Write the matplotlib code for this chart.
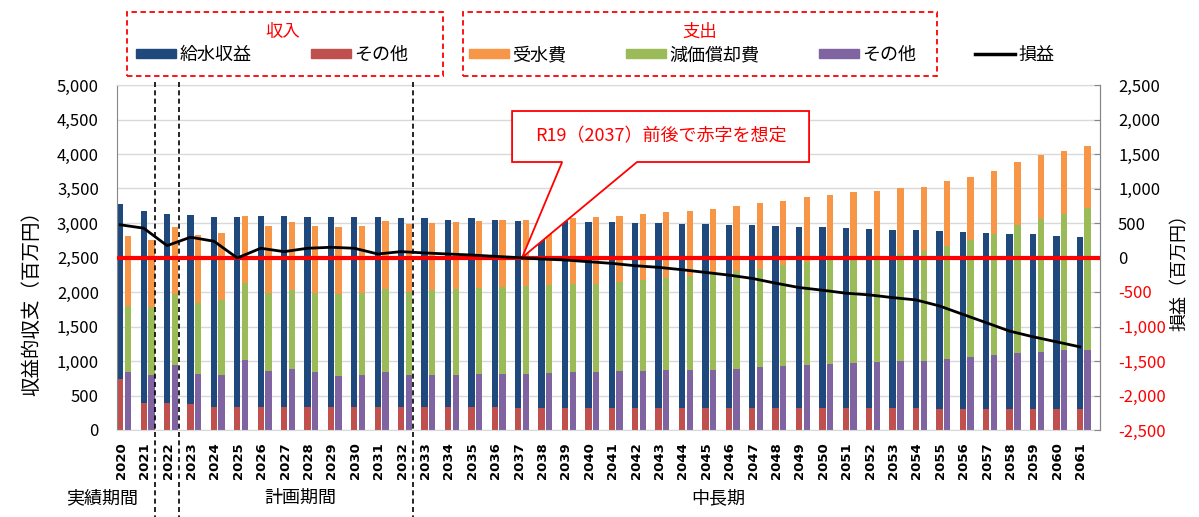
import matplotlib
matplotlib.use('Agg')
import matplotlib.pyplot as plt
import matplotlib.transforms as mtransforms
from matplotlib.patches import Patch, Polygon, Rectangle
from matplotlib.lines import Line2D
import numpy as np

plt.rcParams['font.family'] = ['Noto Sans CJK JP', 'DejaVu Sans']

# データ（百万円）
years = list(range(2020, 2062))
rev_water = [2530, 2790, 2740, 2745, 2745, 2745, 2760, 2760, 2745, 2745, 2745, 2745,
             2730, 2730, 2710, 2730, 2710, 2710, 2705, 2710, 2690, 2690,
             2670, 2670, 2660, 2660, 2650, 2650, 2640, 2625, 2625, 2615,
             2600, 2585, 2585, 2585, 2565, 2550, 2535, 2535, 2510, 2495]
rev_other = [745, 390, 390, 375, 340, 340, 340, 340, 340, 340, 340, 340,
             340, 340, 340, 340, 340, 325, 325, 325, 325, 325,
             325, 325, 325, 325, 315, 315, 315, 315, 315, 315,
             315, 315, 315, 300, 300, 300, 300, 300, 300, 300]
exp_purchase = [1010, 975, 965, 985, 970, 975, 965, 985, 965, 975, 970, 975,
                980, 975, 970, 970, 965, 960, 960, 960, 965, 960,
                960, 955, 940, 945, 935, 950, 930, 945, 935, 950,
                955, 950, 925, 935, 915, 910, 915, 925, 915, 900]
exp_depr = [955, 990, 1035, 1030, 1085, 1105, 1130, 1135, 1155, 1180, 1180, 1205,
            1205, 1225, 1240, 1240, 1260, 1275, 1270, 1275, 1285, 1290,
            1320, 1335, 1360, 1385, 1420, 1430, 1465, 1490, 1520, 1530,
            1530, 1555, 1605, 1640, 1700, 1760, 1855, 1935, 1980, 2055]
exp_other = [845, 790, 940, 815, 800, 1020, 860, 890, 835, 785, 800, 845,
             800, 800, 800, 815, 815, 815, 830, 835, 835, 850,
             850, 865, 875, 875, 890, 910, 925, 940, 955, 970,
             985, 995, 995, 1030, 1055, 1085, 1110, 1125, 1155, 1165]
profit = [474, 425, 172, 294, 236, -7, 134, 85, 134, 148, 134, 51,
          85, 66, 51, 36, 17, -2, -22, -36, -61, -85,
          -119, -143, -177, -216, -255, -303, -372, -435, -474, -517,
          -542, -581, -615, -702, -824, -945, -1067, -1149, -1222, -1295]

periods = ['実績期間', '計画期間', '中長期']
period_start = [2022, 2023, 2033]  # 区切り線の位置（この年の手前）

c_blue = '#1F497D'
c_red = '#C0504D'
c_orange = '#F79646'
c_green = '#9BBB59'
c_purple = '#8064A2'

fig = plt.figure(figsize=(11.99, 5.17), dpi=100)
ax = fig.add_axes([117/1199, 87/517, 983/1199, 345/517])

x = np.arange(len(years))
w = 0.27
xr = x - 0.36
xe = x - 0.03
ro = np.array(rev_other)
eo = np.array(exp_other)
ed = np.array(exp_depr)

ax.bar(xr, rev_other, w, color=c_red, zorder=2)
ax.bar(xr, rev_water, w, bottom=ro, color=c_blue, zorder=2)
ax.bar(xe, exp_other, w, color=c_purple, zorder=2)
ax.bar(xe, exp_depr, w, bottom=eo, color=c_green, zorder=2)
ax.bar(xe, exp_purchase, w, bottom=eo + ed, color=c_orange, zorder=2)

ax.set_xlim(-0.5, len(years) - 0.5)
ax.set_ylim(0, 5000)
ax.set_yticks(np.arange(0, 5001, 500))
ax.set_yticklabels(['{:,}'.format(v) for v in range(0, 5001, 500)], fontsize=12)
ax.tick_params(axis='y', length=0, pad=13)
ax.yaxis.grid(True, color='#d9d9d9', lw=1)
ax.set_axisbelow(True)
ax.set_xticks(x - 0.32)
ax.set_xticklabels([str(y) for y in years], rotation=90, fontsize=9.5,
                   fontweight='bold', family='DejaVu Sans')
ax.tick_params(axis='x', length=0, pad=9)
for s in ['top', 'bottom']:
    ax.spines[s].set_color('#d9d9d9')
ax.spines['left'].set_color('#868686')
ax.spines['right'].set_color('#868686')

ax2 = ax.twinx()
ax2.set_ylim(-2500, 2500)
rt = np.arange(-2500, 2501, 500)
ax2.set_yticks(rt)
ax2.set_yticklabels(['{:,}'.format(v) for v in rt], fontsize=12)
for lab, v in zip(ax2.get_yticklabels(), rt):
    if v < 0:
        lab.set_color('#ff0000')
ax2.tick_params(axis='y', direction='in', length=4, color='#868686', pad=13)
ax2.spines['right'].set_color('#868686')
ax2.spines['left'].set_visible(False)
ax2.spines['top'].set_visible(False)
ax2.spines['bottom'].set_visible(False)

# 吹き出し
i37 = years.index(2037)
tip = i37 - 0.19
callout = Polygon([(16.38, 2123), (29.07, 2123), (29.07, 1384), (21.72, 1384),
                   (tip, 0), (18.52, 1384), (16.38, 1384)], closed=True,
                  facecolor='white', edgecolor='#ff0000', lw=1.3, zorder=3)
ax2.add_patch(callout)
ax2.text((16.38 + 29.07) / 2, 1754, 'R19（2037）前後で赤字を想定', color='#ff0000',
         fontsize=13, ha='center', va='center', zorder=4)

ax2.axhline(0, color='#ff0000', lw=3, zorder=5)
ax2.plot(xr, profit, color='black', lw=2, zorder=6)

# 期間の区切り
trans = mtransforms.blended_transform_factory(ax.transData, ax.transAxes)
for y in period_start:
    xb = years.index(y) - 0.87
    ax.plot([xb, xb], [1.01, -0.26], transform=trans, clip_on=False,
            color='black', lw=1.2, ls=(0, (3, 2)), zorder=10)

fig.text(102/1199, 1 - 498/517, periods[0], ha='center', va='center', fontsize=13)
fig.text(300/1199, 1 - 498/517, periods[1], ha='center', va='center', fontsize=13)
fig.text(718/1199, 1 - 498/517, periods[2], ha='center', va='center', fontsize=13)

fig.text(32/1199, 1 - 298/517, '収益的収支（百万円）', rotation=90, ha='center',
         va='center', fontsize=14)
fig.text(1180/1199, 1 - 268/517, '損益（百万円）', rotation=90, ha='center',
         va='center', fontsize=13)

# 凡例（赤の点線枠）
for bx, bw, title, tx in [(127, 316, '収入', 283), (463, 474, '支出', 700)]:
    fig.patches.append(Rectangle((bx/1199, 1 - 76/517), bw/1199, 64/517,
                                 transform=fig.transFigure, fill=False,
                                 edgecolor='#ff0000', lw=1.3, ls=(0, (3, 2))))
    fig.text(tx/1199, 1 - 32/517, title, color='#ff0000', ha='center',
             va='center', fontsize=12.5)

leg_kw = dict(loc='center left', fontsize=13, frameon=False, borderaxespad=0,
              borderpad=0, handlelength=2.2, handleheight=0.42, handletextpad=0.2,
              columnspacing=3.3)
fig.legend(handles=[Patch(color=c_blue), Patch(color=c_red)],
           labels=['給水収益', 'その他'], ncol=2,
           bbox_to_anchor=(136/1199, 1 - 55/517), **leg_kw)
fig.legend(handles=[Patch(color=c_orange), Patch(color=c_green), Patch(color=c_purple)],
           labels=['受水費', '減価償却費', 'その他'], ncol=3,
           bbox_to_anchor=(469/1199, 1 - 55/517), **leg_kw)
fig.legend(handles=[Line2D([], [], color='black', lw=2.5)], labels=['損益'],
           bbox_to_anchor=(975/1199, 1 - 55/517), **leg_kw)

plt.savefig('out.png', dpi=100)
plt.close()
